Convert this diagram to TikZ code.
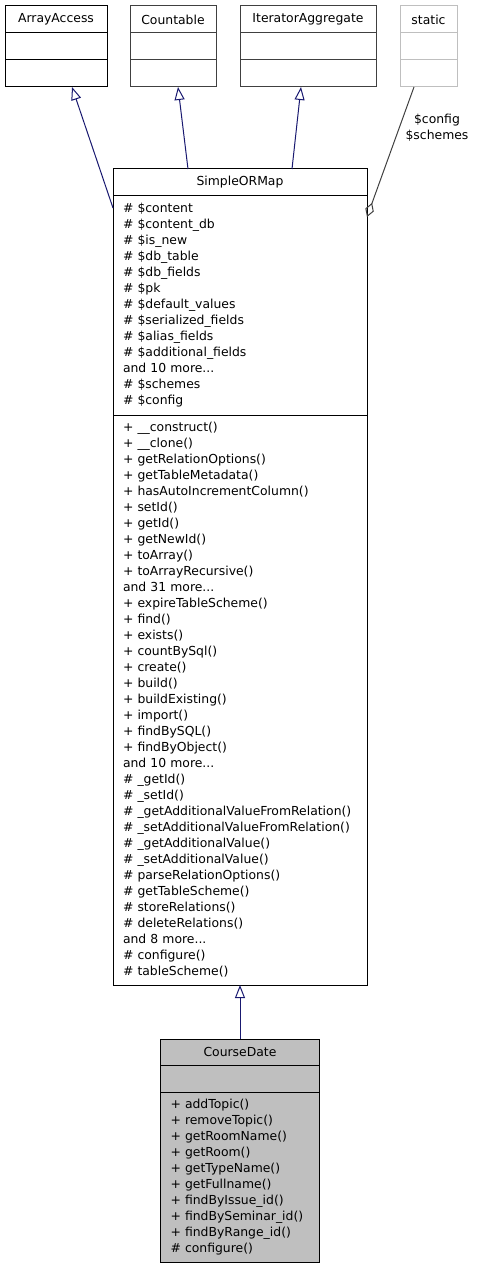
\documentclass[tikz,border=0pt]{standalone}
\usepackage{fontspec}
\setmainfont{DejaVu Sans}
\usepackage{tikz}
\usetikzlibrary{positioning, arrows.meta}

\definecolor{edgeblue}{HTML}{191970}
\definecolor{edgegray}{HTML}{404040}
\definecolor{boxgray}{HTML}{BFBFBF}

\tikzset{
  ctitle/.style={draw, line width=0.75pt, inner sep=0pt, outer sep=0pt,
    minimum width=#1, minimum height=20.25pt, align=center},
  cempty/.style={draw, line width=0.75pt, inner sep=0pt, outer sep=0pt,
    minimum width=#1, minimum height=20.25pt},
  cmembers/.style={draw, line width=0.75pt, inner xsep=7.5pt, inner ysep=0pt,
    outer sep=0pt, text width=#1, align=left},
  inherit/.style={draw=edgeblue, line width=0.75pt,
    -{Triangle[open, length=9.75pt, width=7.5pt]}},
  useedge/.style={draw=edgegray, line width=0.75pt,
    -{Diamond[open, length=11.25pt, width=6.75pt]}}
}

\begin{document}
\begin{tikzpicture}[x=0.75pt, y=-0.75pt, font=\fontsize{9.3pt}{12pt}\selectfont]

  \useasboundingbox (0,0) rectangle (476,1269);

  % =========================
  % BASE CLASSES
  % =========================
  \node[ctitle=76.5pt, anchor=north, draw=black] (aatitle) at (56,6) {ArrayAccess};
  \node[cempty=76.5pt, draw=black, below=0pt of aatitle] (aaattr) {};
  \node[cempty=76.5pt, draw=black, below=0pt of aaattr] (aameth) {};

  \node[ctitle=64.5pt, anchor=north, draw=edgegray] (cttitle) at (173,6) {Countable};
  \node[cempty=64.5pt, draw=edgegray, below=0pt of cttitle] (ctattr) {};
  \node[cempty=64.5pt, draw=edgegray, below=0pt of ctattr] (ctmeth) {};

  \node[ctitle=102pt, anchor=north, draw=edgegray] (iatitle) at (308,6) {IteratorAggregate};
  \node[cempty=102pt, draw=edgegray, below=0pt of iatitle] (iaattr) {};
  \node[cempty=102pt, draw=edgegray, below=0pt of iaattr] (iameth) {};

  \node[ctitle=42.75pt, anchor=north, draw=boxgray] (sttitle) at (428.5,6) {static};
  \node[cempty=42.75pt, draw=boxgray, below=0pt of sttitle] (stattr) {};
  \node[cempty=42.75pt, draw=boxgray, below=0pt of stattr] (stmeth) {};

  % =========================
  % SimpleORMap
  % =========================
  \node[ctitle=190.5pt, anchor=north] (somtitle) at (240,169) {SimpleORMap};
  \node[cmembers=175.5pt, minimum height=164.25pt, below=0pt of somtitle] (somattr) {%
    \# \$content\\
    \# \$content\_db\\
    \# \$is\_new\\
    \# \$db\_table\\
    \# \$db\_fields\\
    \# \$pk\\
    \# \$default\_values\\
    \# \$serialized\_fields\\
    \# \$alias\_fields\\
    \# \$additional\_fields\\
    and 10 more...\\
    \# \$schemes\\
    \# \$config};
  \node[cmembers=175.5pt, minimum height=427.5pt, below=0pt of somattr] (sommeth) {%
    + \_\_construct()\\
    + \_\_clone()\\
    + getRelationOptions()\\
    + getTableMetadata()\\
    + hasAutoIncrementColumn()\\
    + setId()\\
    + getId()\\
    + getNewId()\\
    + toArray()\\
    + toArrayRecursive()\\
    and 31 more...\\
    + expireTableScheme()\\
    + find()\\
    + exists()\\
    + countBySql()\\
    + create()\\
    + build()\\
    + buildExisting()\\
    + import()\\
    + findBySQL()\\
    + findByObject()\\
    and 10 more...\\
    \# \_getId()\\
    \# \_setId()\\
    \# \_getAdditionalValueFromRelation()\\
    \# \_setAdditionalValueFromRelation()\\
    \# \_getAdditionalValue()\\
    \# \_setAdditionalValue()\\
    \# parseRelationOptions()\\
    \# getTableScheme()\\
    \# storeRelations()\\
    \# deleteRelations()\\
    and 8 more...\\
    \# configure()\\
    \# tableScheme()};

  % =========================
  % CourseDate
  % =========================
  \node[ctitle=119.25pt, minimum height=19.5pt, anchor=north, fill=boxgray] (cdtitle) at (240,1039) {CourseDate};
  \node[cempty=119.25pt, fill=boxgray, below=0pt of cdtitle] (cdattr) {};
  \node[cmembers=104.25pt, minimum height=127.5pt, fill=boxgray, below=0pt of cdattr] (cdmeth) {%
    + addTopic()\\
    + removeTopic()\\
    + getRoomName()\\
    + getRoom()\\
    + getTypeName()\\
    + getFullname()\\
    + findByIssue\_id()\\
    + findBySeminar\_id()\\
    + findByRange\_id()\\
    \# configure()};

  % =========================
  % EDGES
  % =========================
  \draw[inherit] ([shift={(0,12)}]somattr.north west) -- ([shift={(16,0)}]aameth.south);
  \draw[inherit] ([shift={(-52,0)}]somtitle.north) -- ([shift={(5,0)}]ctmeth.south);
  \draw[inherit] ([shift={(52,0)}]somtitle.north) -- ([shift={(-7,0)}]iameth.south);
  \draw[useedge] ([shift={(-14.5,0)}]stmeth.south) -- ([shift={(0,21)}]somattr.north east);
  \node[align=center, inner sep=0pt] (uselabel) at (437,128) {\$config\\\$schemes};

  \draw[inherit] (cdtitle.north) -- (sommeth.south);

\end{tikzpicture}
\end{document}
